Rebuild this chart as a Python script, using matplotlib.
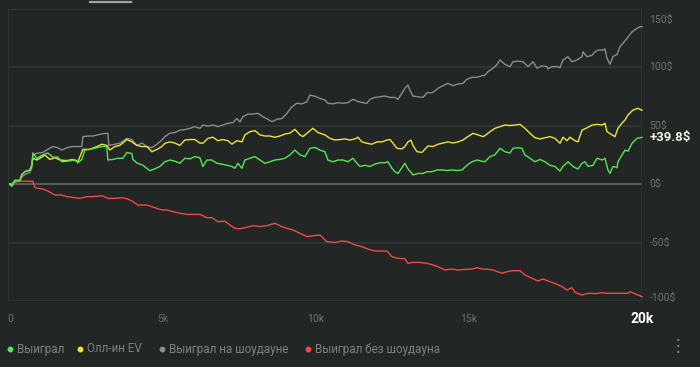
import matplotlib
matplotlib.use('Agg')
import matplotlib.pyplot as plt
from matplotlib.lines import Line2D

plt.rcParams['font.family'] = ['Roboto', 'DejaVu Sans']

# --- данные (руки, $) ---
total_hands = 20654

won_hands = [0, 65, 163, 327, 392, 490, 654, 719, 752, 882, 1078, 1242, 1405, 1569, 1699, 1863,
             2026, 2124, 2222, 2353, 2451, 2614, 2843, 3007, 3170, 3203, 3366, 3529, 3693, 3824,
             3987, 4020, 4150, 4346, 4575, 4739, 4902, 5065, 5229, 5392, 5556, 5719, 5882, 6046,
             6209, 6307, 6438, 6601, 6765, 6928, 7092, 7255, 7353, 7451, 7582, 7680, 7843, 8007,
             8170, 8333, 8497, 8660, 8824, 8987, 9150, 9314, 9477, 9641, 9804, 9967, 10131, 10294,
             10392, 10556, 10719, 10882, 11046, 11209, 11340, 11438, 11601, 11765, 11928, 12092,
             12255, 12353, 12484, 12582, 12680, 12810, 12908, 13006, 13137, 13170, 13333, 13497,
             13628, 13791, 13954, 14118, 14281, 14444, 14608, 14771, 14935, 15098, 15262, 15425,
             15523, 15686, 15850, 16013, 16176, 16340, 16438, 16601, 16732, 16830, 16994, 17157,
             17320, 17484, 17647, 17810, 17974, 18072, 18235, 18399, 18562, 18693, 18791, 18889,
             19052, 19183, 19346, 19444, 19542, 19608, 19706, 19837, 19869, 20000, 20098, 20196,
             20327, 20490, 20654]
won = [0, -1.7, 3, 3, 8, 10.5, 12, 16, 26.5, 22, 25, 26.5, 23, 23, 19, 19.5,
       20, 21, 18, 21, 29, 29.6, 31, 32, 32, 20.5, 21, 22, 22, 27,
       26, 21, 18, 16, 11.4, 13, 15, 19, 20.5, 19.5, 17.7, 22, 21.5, 23.4,
       22.5, 15, 20.5, 20.5, 17.7, 17, 16, 15, 13.4, 17.7, 13.4, 20.5, 22, 23.4,
       20.5, 17.7, 19, 20.5, 21, 22, 24.8, 29, 25, 23.4, 30.5, 31.3, 29, 27.6,
       20.5, 19, 20.5, 20.5, 19, 22, 17.7, 15, 16, 15, 17, 18.2,
       18.2, 19, 13.4, 10.5, 9, 14, 17.7, 13, 9, 7.7, 9, 9,
       10.5, 10.5, 12, 12, 11.5, 12, 11.5, 12, 16, 19, 20.5, 19.5,
       19, 23.4, 25, 30.5, 27.6, 26.5, 30.5, 31, 30.5, 24.8, 22, 19,
       21, 19, 16, 15, 11, 15, 19, 15, 12.8, 17.7, 19, 15,
       16, 22, 20.5, 22, 12, 9, 15, 14, 19, 24.8, 29, 28,
       34.8, 39, 39.8]

ev_hands = [0, 65, 163, 327, 392, 490, 654, 719, 752, 882, 980, 1144, 1307, 1471, 1634, 1863,
            2059, 2222, 2386, 2614, 2843, 3007, 3170, 3268, 3431, 3595, 3824, 3987, 4150, 4314,
            4477, 4640, 4804, 4967, 5065, 5229, 5392, 5556, 5719, 5882, 6046, 6209, 6307, 6471,
            6634, 6797, 6961, 7124, 7255, 7418, 7582, 7680, 7843, 8007, 8170, 8333, 8497, 8660,
            8824, 8987, 9150, 9314, 9477, 9575, 9738, 9902, 10065, 10294, 10458, 10621, 10784,
            10948, 11111, 11275, 11373, 11503, 11667, 11830, 11993, 12157, 12320, 12418, 12516,
            12647, 12810, 12908, 13006, 13104, 13170, 13301, 13464, 13660, 13824, 13987, 14150,
            14314, 14477, 14641, 14804, 14967, 15131, 15294, 15458, 15523, 15686, 15850, 16013,
            16176, 16340, 16503, 16667, 16830, 16994, 17157, 17320, 17484, 17647, 17810, 17974,
            18072, 18203, 18301, 18464, 18562, 18693, 18856, 19020, 19183, 19346, 19444, 19510,
            19673, 19771, 19869, 20000, 20098, 20196, 20359, 20523, 20654]
ev = [0, -1.7, 3, 3, 8, 10.5, 12, 16, 22, 20.5, 22, 24.8, 21, 22.5, 20.5, 20,
      21, 19, 29.6, 29.6, 32, 34, 33, 29, 32, 33, 38, 36, 33, 32,
      32, 27.6, 29.5, 32, 34.8, 36, 35, 33, 37.6, 38, 38, 35, 34.8, 39,
      40, 37, 38, 37, 34, 37, 36, 42, 44.7, 45.6, 42, 41, 41, 40,
      41, 42.7, 43.5, 46.7, 42, 40.5, 44, 47.6, 44, 42, 39, 37.6, 38,
      38.5, 37.6, 38.5, 40, 36, 34.8, 34, 36, 36, 37.6, 38, 35,
      30.5, 30, 32, 36, 37.5, 33, 27.6, 27, 32.5, 32, 34, 35,
      36, 35, 36, 37.6, 40.5, 43.3, 42, 40.5, 41.3, 44.7, 47.6, 49,
      50.4, 50, 50.4, 51, 47.6, 43.3, 39.6, 38.5, 39.5, 40.5, 39, 34.8,
      40, 37, 40, 37, 36, 46, 48, 50.4, 51, 50.4, 51.9, 44.7,
      42, 40.5, 47.6, 52, 54.7, 59, 63.2, 64.7, 63]

sd_hands = [0, 65, 163, 327, 392, 490, 654, 719, 752, 882, 1078, 1242, 1405, 1569, 1699, 1863,
            2026, 2190, 2353, 2386, 2549, 2712, 2876, 3039, 3203, 3235, 3431, 3595, 3824, 3987,
            4150, 4314, 4477, 4640, 4804, 4967, 5065, 5229, 5392, 5556, 5719, 5882, 6046, 6209,
            6307, 6471, 6634, 6797, 6961, 7124, 7288, 7418, 7516, 7614, 7778, 7941, 8105, 8268,
            8431, 8562, 8726, 8889, 9052, 9216, 9379, 9543, 9706, 9804, 9967, 10131, 10294,
            10392, 10556, 10719, 10882, 11046, 11209, 11373, 11536, 11667, 11765, 11928, 12092,
            12255, 12418, 12582, 12680, 12810, 12908, 13006, 13072, 13170, 13333, 13497, 13628,
            13791, 13889, 13987, 14150, 14314, 14477, 14641, 14804, 14935, 15098, 15262, 15425,
            15523, 15621, 15784, 15915, 16013, 16176, 16340, 16438, 16601, 16765, 16928, 17092,
            17222, 17386, 17549, 17582, 17712, 17876, 17974, 18072, 18235, 18366, 18529, 18693,
            18725, 18856, 19020, 19118, 19216, 19379, 19444, 19510, 19608, 19706, 19837, 19935,
            20033, 20163, 20327, 20490, 20588, 20654]
showdown = [0, -1.7, 3, 3, 6, 8, 10, 14, 24.8, 26.2, 27, 29.6, 32, 31, 29, 31,
            32, 32, 32, 40.5, 41, 41, 42, 43, 43.3, 33, 34, 34.8, 39, 38,
            33, 35, 32, 31, 34, 37.6, 40.5, 43.3, 44, 46, 46.5, 47.6, 49, 47.6,
            50.4, 49.5, 50.4, 49, 50.4, 51.9, 52.5, 56, 53, 57.5, 59.8, 59.8, 60.4, 57.5,
            55.3, 53.3, 55.3, 56, 60.4, 66, 69, 68.5, 70.3, 76, 75, 73.2, 71.8,
            69, 68.5, 69.5, 69, 69.5, 72.4, 70.5, 69.5, 69, 72.4, 74, 74.5,
            75.2, 74, 74, 72.4, 77.5, 81.8, 84.6, 80, 75.2, 74.5, 74, 78,
            78, 79.5, 81.8, 84, 86, 84, 85.5, 86, 89.5, 91.2, 91.2, 92.5,
            93, 96, 98.9, 102, 106, 102.3, 100.3, 104.5, 105, 104.5, 100.3, 104.5,
            99, 101, 100.3, 98.3, 100.3, 100.3, 99.5, 106, 108.8, 104.5, 106, 108.8,
            113, 108.8, 110, 113, 114.5, 114.5, 115.4, 107.4, 102.3, 109, 110.5, 117.4,
            120.3, 124.5, 130, 133, 134.5, 134.5]

nsd_hands = [0, 98, 261, 425, 588, 752, 817, 1078, 1242, 1471, 1699, 1863, 2059, 2288, 2516,
             2712, 2941, 3039, 3203, 3431, 3660, 3856, 4020, 4183, 4477, 4640, 4804, 4967, 5131,
             5327, 5556, 5784, 5980, 6209, 6438, 6601, 6797, 7026, 7190, 7353, 7516, 7745, 7941,
             8170, 8399, 8660, 8889, 9052, 9248, 9477, 9706, 9902, 10131, 10359, 10621, 10850,
             11046, 11275, 11503, 11699, 11928, 12157, 12320, 12484, 12680, 12908, 13006, 13170,
             13399, 13628, 13824, 13987, 14216, 14444, 14641, 14869, 15098, 15262, 15425, 15588,
             15784, 16078, 16242, 16438, 16667, 16830, 17059, 17255, 17418, 17647, 17876, 18039,
             18203, 18366, 18464, 18693, 18889, 19118, 19346, 19542, 19771, 20000, 20196, 20262,
             20490, 20654]
non_showdown = [0, 1, 2, 2.6, 2.3, 2.3, -3.1, -4.3, -6, -9.4, -9.4, -10.8, -11.5, -12.3, -10.8,
                -10.8, -10.2, -10.2, -12.3, -12.3, -11.8, -12.8, -15, -18, -18, -19.4, -20.8, -22.2, -22.2,
                -23.6, -25, -26, -26, -26, -28.8, -28.8, -32.2, -31.8, -35, -37.9, -38.3, -37, -35.6,
                -36.4, -35.6, -33.6, -36.4, -37.9, -39.3, -42.1, -45, -44.2, -43.6, -49.3, -50, -48.7,
                -49.3, -52.1, -53.5, -55.6, -57.3, -57.3, -57.3, -62.1, -63.5, -64, -67.8, -67,
                -67, -67.8, -69.2, -70.7, -73.5, -72.7, -73.5, -73, -72.7, -71.5, -72.7, -72.7,
                -73.5, -76.3, -75, -74.1, -74.1, -77.8, -80.6, -82.9, -81.2, -83.5, -85.7, -87.7,
                -90.6, -88.6, -92.6, -94.9, -93.4, -93.7, -93, -93.4, -93.4, -93.4, -93.4, -92,
                -94.5, -96.3]

y_levels = [150, 100, 50, 0, -50, -100]
y_labels = ['150$', '100$', '50$', '0$', '-50$', '-100$']
x_ticks = [0, 5000, 10000, 15000]
x_labels = ['0', '5k', '10k', '15k']
legend_names = ['Выиграл', 'Олл-ин EV', 'Выиграл на шоудауне', 'Выиграл без шоудауна']

bg = '#222725'
c_green = '#55e655'
c_yellow = '#f2e23c'
c_gray = '#8c8c8c'
c_red = '#ee4a4a'
faint = '#2f3532'
label_gray = '#6e7270'

fig = plt.figure(figsize=(7, 3.67), dpi=100, facecolor=bg)
ax = fig.add_axes([8 / 700, 1 - 301 / 367, 634 / 700, 292.5 / 367], facecolor=bg)

ax.set_xlim(-60, total_hands)
ax.set_ylim(-100, 150)

# сетка
for lv in y_levels:
    col = '#585c5a' if lv == 0 else faint
    ax.axhline(lv, color=col, lw=1.4, zorder=1)
for s in ax.spines.values():
    s.set_visible(False)
ax.axvline(-60, color=faint, lw=1.4, zorder=1)
ax.axvline(total_hands, color=faint, lw=1.4, zorder=1)
ax.set_xticks([])
ax.set_yticks([])

ax.plot(nsd_hands, non_showdown, color=c_red, lw=1.0, zorder=3, clip_on=False)
ax.plot(sd_hands, showdown, color=c_gray, lw=1.0, zorder=4, clip_on=False)
ax.plot(ev_hands, ev, color=c_yellow, lw=1.0, zorder=5, clip_on=False)
ax.plot(won_hands, won, color=c_green, lw=1.0, zorder=6, clip_on=False)

# подписи оси Y справа
for lv, lab in zip(y_levels, y_labels):
    dy = 0
    if lv == 150:
        dy = -8.3
    elif lv == -100:
        dy = 2.2
    ax.annotate(lab, xy=(1, lv), xycoords=('axes fraction', 'data'), xytext=(5.5, dy),
                textcoords='offset points', ha='left', va='center', color=label_gray, fontsize=7.5)

ax.annotate('+%.1f$' % won[-1], xy=(1, won[-1]), xycoords=('axes fraction', 'data'),
            xytext=(5.5, 0), textcoords='offset points', ha='left', va='center',
            color='#eef3e6', fontsize=9.5, fontweight='bold')

# подписи оси X
for xt, lab in zip(x_ticks, x_labels):
    ax.annotate(lab, xy=(xt, 0), xycoords=('data', 'axes fraction'), xytext=(0, -13),
                textcoords='offset points', ha='center', va='center', color=label_gray, fontsize=7.5)
ax.annotate('20k', xy=(total_hands, 0), xycoords=('data', 'axes fraction'), xytext=(0, -13),
            textcoords='offset points', ha='center', va='center', color='white',
            fontsize=10, fontweight='bold')

# легенда
dots = [10, 80, 162, 308]
colors = [c_green, c_yellow, c_gray, c_red]
ly = 1 - 349 / 367
for dx, col, name in zip(dots, colors, legend_names):
    fig.add_artist(Line2D([dx / 700], [ly], marker='o', markersize=3.2, color=col, lw=0))
    fig.text((dx + 7) / 700, ly, name, ha='left', va='center', color='#7d8180', fontsize=8.4)

fig.text(678 / 700, 1 - 346 / 367, '⋮', ha='center', va='center', color='#8a8d8c',
         fontsize=12, family='DejaVu Sans')

# полоска сверху
fig.add_artist(Line2D([90 / 700, 131 / 700], [1 - 1.5 / 367, 1 - 1.5 / 367], color='#a0a3a2', lw=1.6))

fig.savefig('out.png', dpi=100, facecolor=bg)
